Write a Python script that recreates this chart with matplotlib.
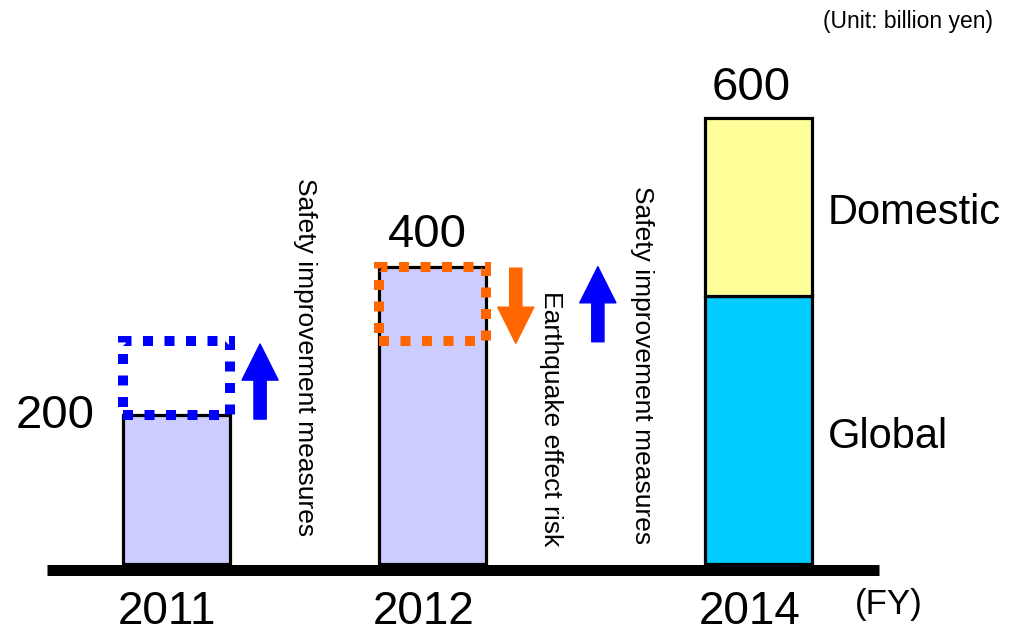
import matplotlib.pyplot as plt
from matplotlib.patches import Rectangle, FancyArrowPatch

plt.rcParams['font.family'] = ['Liberation Sans', 'DejaVu Sans']

# data
years = ['2011', '2012', '2014']
totals = [200, 400, 600]
global_2014 = 360
domestic_2014 = 240
safety_gain_2011 = 100
quake_risk_2012 = 100
safety_gain_2012 = 100

# layout (bar positions in "bar spacing" units)
x_pos = [0, 1, 2.27]
bar_w = 0.417

fig = plt.figure(figsize=(10.19, 6.31), dpi=100)
ax = fig.add_axes([0, 0, 1, 1])
ax.set_xlim(-0.688, 3.285)
ax.set_ylim(-90.1, 758.8)
ax.axis('off')

lavender = '#CCCCFF'
blue = '#0000FF'
orange = '#FF6600'

ax.bar(x_pos[:2], totals[:2], bar_w, color=lavender, edgecolor='black', linewidth=2.3, zorder=2)
ax.bar(x_pos[2], global_2014, bar_w, color='#00CCFF', edgecolor='black', linewidth=2.3, zorder=2)
ax.bar(x_pos[2], domestic_2014, bar_w, bottom=global_2014, color='#FFFF99',
       edgecolor='black', linewidth=2.3, zorder=2)

# baseline
ax.hlines(-7.4, -0.505, 2.739, color='black', linewidth=7.9, zorder=4)

# dotted boxes
dots = (0, (1, 1.15))
ax.add_patch(Rectangle((x_pos[0] - bar_w / 2, totals[0]), bar_w, safety_gain_2011, fill=False,
                       edgecolor=blue, linewidth=7.2, linestyle=dots, zorder=3))
ax.add_patch(Rectangle((x_pos[1] - bar_w / 2, totals[1] - quake_risk_2012), bar_w, quake_risk_2012,
                       fill=False, edgecolor=orange, linewidth=7.2, linestyle=dots, zorder=3))

def arrow(x, y0, y1, color):
    style = 'simple,head_length=26,head_width=26,tail_width=8.8'
    ax.add_patch(FancyArrowPatch((x, y0), (x, y1), arrowstyle=style, mutation_scale=1,
                                 color=color, shrinkA=0, shrinkB=0, zorder=3))

arrow(0.326, totals[0] - 5, totals[0] + safety_gain_2011 - 4, blue)
arrow(1.323, totals[1] - 2, totals[1] - quake_risk_2012 - 3, orange)
arrow(1.643, totals[1] - safety_gain_2012 - 1, totals[1], blue)

# vertical notes
ax.text(0.5, 278, 'Safety improvement measures', rotation=-90, fontsize=19,
        ha='center', va='center')
ax.text(1.46, 196, 'Earthquake effect risk', rotation=-90, fontsize=19,
        ha='center', va='center')
ax.text(1.815, 268, 'Safety improvement measures', rotation=-90, fontsize=19,
        ha='center', va='center')

# value labels
ax.text(-0.474, 183, str(totals[0]), fontsize=34, ha='center', va='baseline')
ax.text(0.98, 426, str(totals[1]), fontsize=34, ha='center', va='baseline')
ax.text(2.24, 624, str(totals[2]), fontsize=34, ha='center', va='baseline')

ax.text(2.54, 457, 'Domestic', fontsize=30, ha='left', va='baseline')
ax.text(2.54, 156, 'Global', fontsize=30, ha='left', va='baseline')

for x, y in zip(x_pos, years):
    ax.text(x - 0.035, -80.7, y, fontsize=33, ha='center', va='baseline')

ax.text(2.645, -67, '(FY)', fontsize=25, ha='left', va='baseline')
ax.text(3.183, 721, '(Unit: billion yen)', fontsize=16.5, ha='right', va='baseline')

fig.savefig('out.png', dpi=100)
